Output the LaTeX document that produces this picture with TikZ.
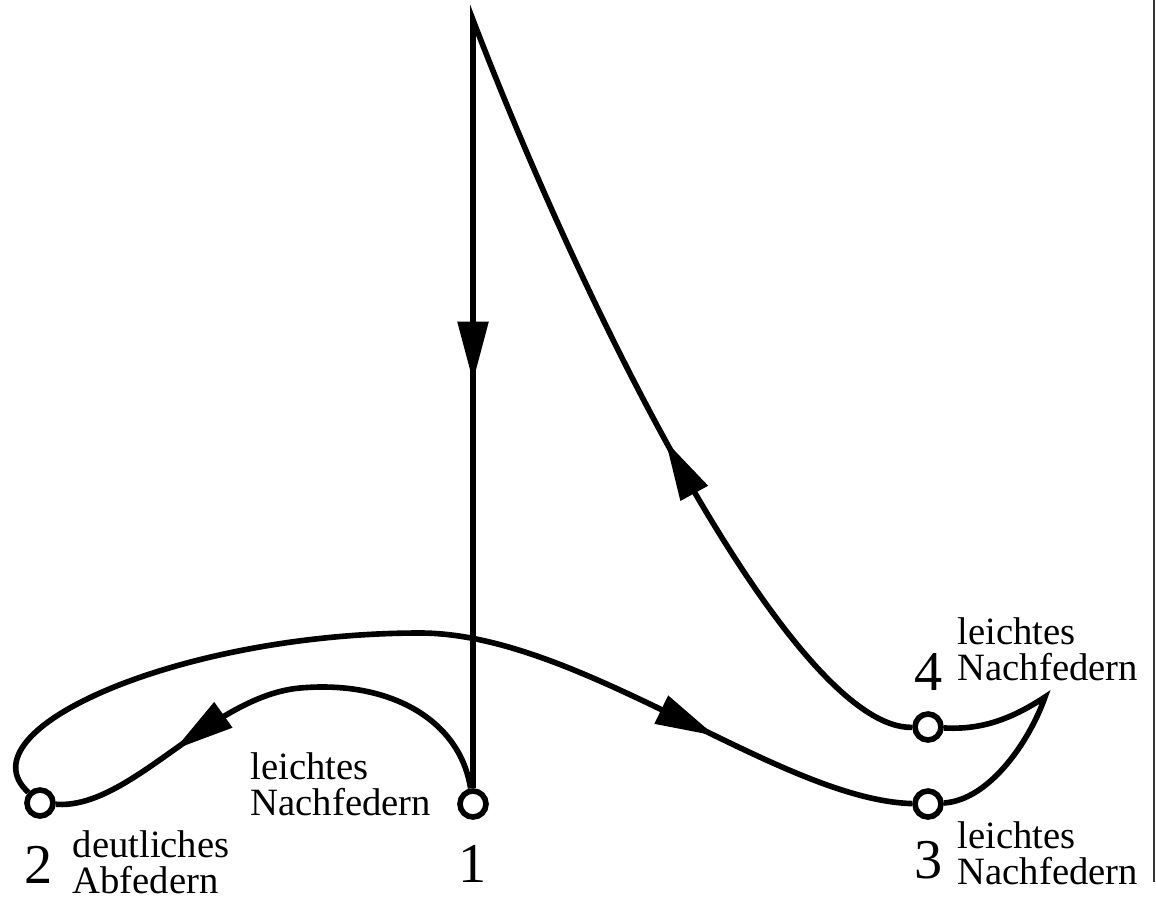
\documentclass[tikz,border=0pt]{standalone}
\usepackage{fontspec}
\setmainfont{Liberation Serif}
\usetikzlibrary{arrows.meta,positioning,decorations.markings}

\tikzset{
  knoten/.style={circle,draw,fill=white,line width=1.6pt,inner sep=0pt,minimum size=2.6mm},
  ziffer/.style={anchor=base,inner sep=0pt,font=\fontsize{16}{16}\selectfont},
  notiz/.style={anchor=south west,inner sep=0pt,align=left,font=\fontsize{11}{10.5}\selectfont},
  pfad/.style={line width=1.6pt,line join=miter},
  pfeilbei/.style={postaction={decorate,decoration={markings,mark=at position #1 with {\arrow{Triangle[length=6mm,width=3mm]}}}}},
}

\begin{document}
\begin{tikzpicture}[x=1mm,y=1mm]
  \useasboundingbox (0,0) rectangle (115.6,90); % 図全体の範囲
  \draw[line width=0.5pt,black!80] (115.4,1.8) -- (115.4,90); % 右端の縦線
  \node[knoten] (n1) at (47.3,9.6) {}; % 状態1
  \node[knoten] (n2) at (4.0,9.7) {}; % 状態2
  \node[knoten] (n3) at (92.8,9.6) {}; % 状態3
  \node[knoten] (n4) at (92.8,17.3) {}; % 状態4
  \coordinate (apex) at (47.3,88.0); % 最上点
  \draw[pfad,pfeilbei=0.73] (n1) .. controls (46.0,18.0) and (39.0,22.0) .. (30.0,21.2)
    .. controls (21.0,20.4) and (13.0,9.0) .. (n2); % 1から2への曲線
  \draw[pfad,pfeilbei=0.79] (n2) .. controls (-4.0,17.0) and (18.0,26.7) .. (42.0,26.7)
    .. controls (58.0,26.7) and (78.0,10.0) .. (n3); % 2から3への大きな弧
  \draw[pfad] (n3) .. controls (99.0,10.0) and (103.0,16.0) .. (104.5,20.3)
    .. controls (101.0,18.0) and (98.0,17.0) .. (n4); % 3から4への尖った曲線
  \draw[pfad,pfeilbei=0.24,pfeilbei=0.749] (n4) .. controls (80.0,17.0) and (60.0,55.0) .. (apex) -- (n1); % 4から最上点を経て1へ
  \node[ziffer] (z1) at (47.3,1.8) {1}; % 番号1
  \node[ziffer] (z2) at (3.9,1.7) {2}; % 番号2
  \node[ziffer] (z3) at (92.9,2.2) {3}; % 番号3
  \node[ziffer] (z4) at (92.9,21.0) {4}; % 番号4
  \node[notiz] (t1) at (25.0,8.3) {leichtes\\Nachfedern}; % 1の説明
  \node[notiz] (t2) at (7.2,0.5) {deutliches\\Abfedern}; % 2の説明
  \node[notiz] (t3) at (95.7,1.4) {leichtes\\Nachfedern}; % 3の説明
  \node[notiz] (t4) at (95.7,21.8) {leichtes\\Nachfedern}; % 4の説明
\end{tikzpicture}
\end{document}
